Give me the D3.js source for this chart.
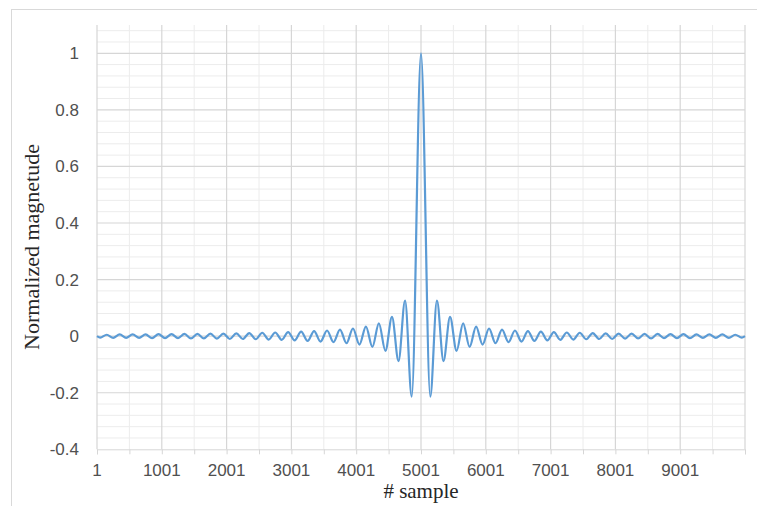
<!DOCTYPE html>
<html>
<head>
<meta charset="utf-8">
<script src="https://cdn.jsdelivr.net/npm/d3@7"></script>
<style>
  body { margin: 0; background: #fff; }
  svg { display: block; }
</style>
</head>
<body>
<svg id="chart"></svg>
<script>
var w = 757;
var h = 506;

// sample positions of the peaks / troughs
var samples = [
  1, 51, 151, 251, 351, 451, 551, 651, 751, 851, 951,
  1051, 1151, 1251, 1351, 1451, 1551, 1651, 1751, 1851, 1951,
  2051, 2151, 2251, 2351, 2451, 2551, 2651, 2751, 2851, 2951,
  3051, 3151, 3251, 3351, 3451, 3551, 3651, 3751, 3851, 3951,
  4051, 4151, 4251, 4351, 4452, 4553, 4654, 4755, 4858,
  5001,
  5144, 5247, 5348, 5449, 5550, 5651, 5751, 5851, 5951,
  6051, 6151, 6251, 6351, 6451, 6551, 6651, 6751, 6851, 6951,
  7051, 7151, 7251, 7351, 7451, 7551, 7651, 7751, 7851, 7951,
  8051, 8151, 8251, 8351, 8451, 8551, 8651, 8751, 8851, 8951,
  9051, 9151, 9251, 9351, 9451, 9551, 9651, 9751, 9851, 9951, 10001
];
var magnitude = [
  0, -0.005, 0.005, -0.006, 0.006, -0.006, 0.006, -0.006, 0.006, -0.007, 0.007,
  -0.007, 0.007, -0.007, 0.008, -0.008, 0.008, -0.008, 0.009, -0.009, 0.009,
  -0.010, 0.010, -0.010, 0.011, -0.011, 0.012, -0.012, 0.013, -0.013, 0.014,
  -0.015, 0.016, -0.017, 0.018, -0.019, 0.020, -0.021, 0.023, -0.025, 0.027,
  -0.030, 0.034, -0.038, 0.045, -0.052, 0.068, -0.088, 0.126, -0.214,
  1,
  -0.214, 0.126, -0.088, 0.068, -0.052, 0.045, -0.038, 0.034, -0.030,
  0.027, -0.025, 0.023, -0.021, 0.020, -0.019, 0.018, -0.017, 0.016, -0.015,
  0.014, -0.013, 0.013, -0.012, 0.012, -0.011, 0.011, -0.010, 0.010, -0.010,
  0.009, -0.009, 0.009, -0.008, 0.008, -0.008, 0.008, -0.007, 0.007, -0.007,
  0.007, -0.007, 0.006, -0.006, 0.006, -0.006, 0.006, -0.006, 0.005, -0.005, 0
];
var xTicks = [1, 1001, 2001, 3001, 4001, 5001, 6001, 7001, 8001, 9001];
var xMinorTicks = [501, 1501, 2501, 3501, 4501, 5501, 6501, 7501, 8501, 9501];
var yTicks = [-0.4, -0.2, 0, 0.2, 0.4, 0.6, 0.8, 1];
var yMinorTicks = [-0.36, -0.32, -0.28, -0.24, -0.16, -0.12, -0.08, -0.04,
  0.04, 0.08, 0.12, 0.16, 0.24, 0.28, 0.32, 0.36, 0.44, 0.48, 0.52, 0.56,
  0.64, 0.68, 0.72, 0.76, 0.84, 0.88, 0.92, 0.96, 1.04, 1.08];

var plotL = 97, plotR = 745, plotT = 25, plotB = 449.3;

var svg = d3.select("#chart")
  .attr("width", w)
  .attr("height", h)
  .attr("viewBox", [0, 0, w, h]);

// outer chart frame
svg.append("rect")
  .attr("x", 11.5).attr("y", 9.5)
  .attr("width", 800).attr("height", 600)
  .attr("fill", "#fff")
  .attr("stroke", "#d9d9d9");

var x = d3.scaleLinear().domain([1, 10001]).range([plotL, plotR]);
var y = d3.scaleLinear().domain([-0.4, 1.1]).range([plotB, plotT]);

var grid = svg.append("g");
// minor grid
grid.selectAll(".hminor")
  .data(yMinorTicks)
  .enter().append("line")
  .attr("x1", plotL).attr("x2", plotR)
  .attr("y1", d => y(d)).attr("y2", d => y(d))
  .attr("stroke", "#ececec").attr("stroke-width", 1);
grid.selectAll(".vminor")
  .data(xMinorTicks)
  .enter().append("line")
  .attr("x1", d => x(d)).attr("x2", d => x(d))
  .attr("y1", plotT).attr("y2", plotB)
  .attr("stroke", "#ececec").attr("stroke-width", 1);
// major grid
grid.selectAll(".hmajor")
  .data(yTicks.slice(1))
  .enter().append("line")
  .attr("x1", plotL).attr("x2", plotR)
  .attr("y1", d => y(d)).attr("y2", d => y(d))
  .attr("stroke", "#d6d6d6").attr("stroke-width", 1.2);
grid.selectAll(".vmajor")
  .data(xTicks.concat([10001]))
  .enter().append("line")
  .attr("x1", d => x(d)).attr("x2", d => x(d))
  .attr("y1", plotT).attr("y2", plotB)
  .attr("stroke", "#d6d6d6").attr("stroke-width", 1.2);

// x axis at -0.4 with small ticks every 500
var xAxis = d3.axisBottom(x)
  .tickValues(xTicks.concat(xMinorTicks, [10001]))
  .tickSize(5)
  .tickFormat("");
var gx = svg.append("g")
  .attr("transform", "translate(0," + y(-0.4) + ")")
  .call(xAxis);
gx.select(".domain").attr("stroke", "#d6d6d6");
gx.selectAll(".tick line").attr("stroke", "#d6d6d6");

svg.append("g").selectAll("text")
  .data(xTicks)
  .enter().append("text")
  .attr("x", d => x(d))
  .attr("y", 476)
  .attr("text-anchor", "middle")
  .attr("font-family", "Liberation Sans, Arial, sans-serif")
  .attr("font-size", 17)
  .attr("fill", "#505050")
  .text(d => d);

svg.append("g").selectAll("text")
  .data(yTicks)
  .enter().append("text")
  .attr("x", 79)
  .attr("y", d => y(d) + 6)
  .attr("text-anchor", "end")
  .attr("font-family", "Liberation Sans, Arial, sans-serif")
  .attr("font-size", 17)
  .attr("fill", "#505050")
  .text(d => d);

// the curve
var pts = samples.map((s, i) => [s, magnitude[i]]);
var line = d3.line()
  .x(d => x(d[0]))
  .y(d => y(d[1]))
  .curve(d3.curveMonotoneX);
svg.append("path")
  .datum(pts)
  .attr("d", line)
  .attr("fill", "none")
  .attr("stroke", "#5b9bd5")
  .attr("stroke-width", 2.2)
  .attr("stroke-linejoin", "round");

// axis titles
svg.append("text")
  .attr("x", (plotL + plotR) / 2)
  .attr("y", 498)
  .attr("text-anchor", "middle")
  .attr("font-family", "Liberation Serif, Times New Roman, serif")
  .attr("font-size", 21)
  .attr("fill", "#262626")
  .text("# sample");

svg.append("text")
  .attr("transform", "translate(39,247) rotate(-90)")
  .attr("text-anchor", "middle")
  .attr("font-family", "Liberation Serif, Times New Roman, serif")
  .attr("font-size", 22)
  .attr("fill", "#262626")
  .text("Normalized magnetude");
</script>
</body>
</html>
